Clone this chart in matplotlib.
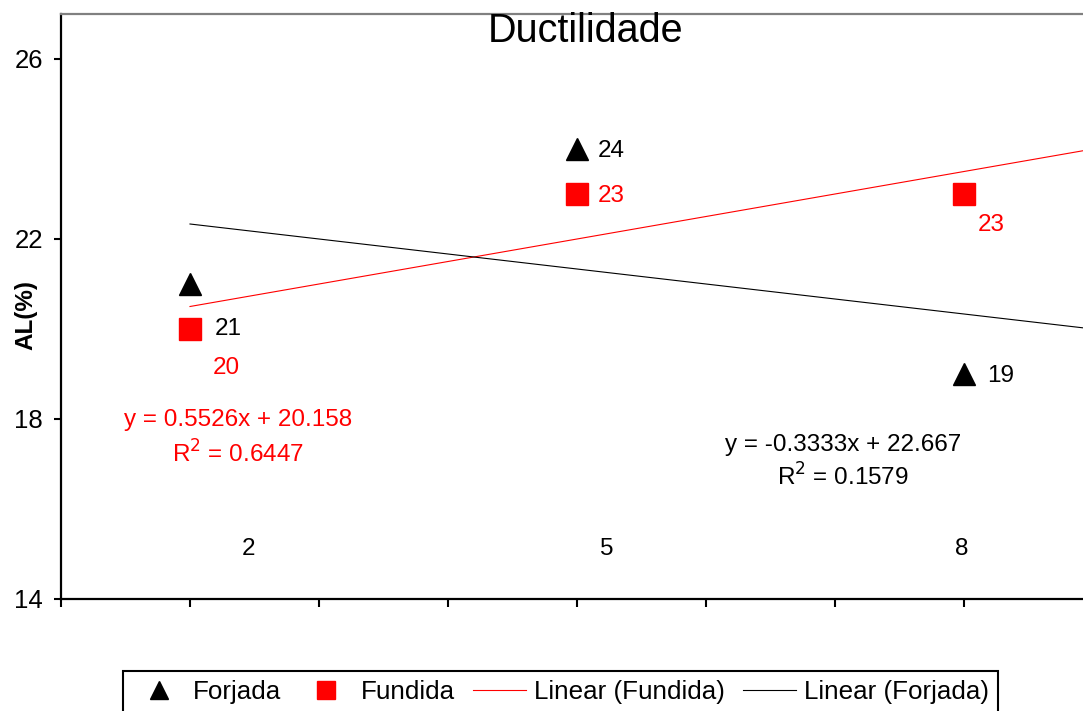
"""Ductilidade chart: AL(%) for forged vs cast samples with linear trends."""
import matplotlib
matplotlib.use("Agg")
import matplotlib.pyplot as plt
from matplotlib.lines import Line2D
import numpy as np

plt.rcParams["font.family"] = ["Liberation Sans", "DejaVu Sans"]

# data
x_vals = [2, 5, 8]
forjada = [21, 24, 19]
fundida = [20, 23, 23]
cat_labels = ["2", "5", "8"]
eq_fundida = ["y = 0.5526x + 20.158", "R$^2$ = 0.6447"]
eq_forjada = ["y = -0.3333x + 22.667", "R$^2$ = 0.1579"]

W, H = 1083, 711
fig = plt.figure(figsize=(W / 100, H / 100), dpi=100)
px = lambda v: v / W
py = lambda v: 1 - v / H

# axes: left spine at x=61px, bottom at 599px, top at 14px; 129 px per x unit
ax = fig.add_axes([px(61), py(599), 8 * 129 / W, (599 - 14) / H])
ax.set_xlim(1, 9)
ax.set_ylim(14, 27)

# trend lines (least squares over the three points), forward to the axis end
xs = np.array([2, 9])
p_fun = np.polyfit(x_vals, fundida, 1)
p_for = np.polyfit(x_vals, forjada, 1)
ax.plot(xs, np.polyval(p_fun, xs), color="red", lw=0.8, zorder=2)
ax.plot(xs, np.polyval(p_for, xs), color="black", lw=0.8, zorder=2)

ax.plot(x_vals, forjada, ls="none", marker="^", ms=16, color="black", zorder=3)
ax.plot(x_vals, fundida, ls="none", marker="s", ms=16, color="red", zorder=3)

# data labels, offsets in px (dx, dy up)
lab_fs = 17.5
off_forjada = [(25, -45), (21, -2), (23, -2)]
off_fundida = [(23, -39), (21, -2), (14, -31)]
for xv, yv, (dx, dy) in zip(x_vals, forjada, off_forjada):
    ax.annotate(str(yv), (xv, yv), xytext=(dx * 0.72, dy * 0.72), textcoords="offset points",
                ha="left", va="center", fontsize=lab_fs, color="black")
for xv, yv, (dx, dy) in zip(x_vals, fundida, off_fundida):
    ax.annotate(str(yv), (xv, yv), xytext=(dx * 0.72, dy * 0.72), textcoords="offset points",
                ha="left", va="center", fontsize=lab_fs, color="red")

# category labels inside plot
for xp, lab in zip([2.45, 5.23, 7.98], cat_labels):
    ax.text(xp, 15.12, lab, ha="center", va="center", fontsize=lab_fs)

# trend equations
ax.text(2.37, 17.98, eq_fundida[0], ha="center", va="center", fontsize=lab_fs, color="red")
ax.text(2.37, 17.22, eq_fundida[1], ha="center", va="center", fontsize=lab_fs, color="red")
ax.text(7.06, 17.42, eq_forjada[0], ha="center", va="center", fontsize=lab_fs, color="black")
ax.text(7.06, 16.71, eq_forjada[1], ha="center", va="center", fontsize=lab_fs, color="black")

# spines / ticks
ax.spines["right"].set_visible(False)
ax.spines["top"].set_color("#808080")
ax.spines["top"].set_linewidth(1.6)
for s in ("left", "bottom"):
    ax.spines[s].set_linewidth(1.6)
ax.set_yticks([14, 18, 22, 26])
ax.set_xticks(range(1, 10))
ax.tick_params(axis="y", direction="out", length=5, width=1.5, pad=8, labelsize=18.5)
ax.tick_params(axis="x", direction="out", length=6, width=1.5, labelbottom=False)

fig.text(px(26), py(315), "AL(%)", rotation=90, ha="center", va="center",
         fontsize=17.5, fontweight="bold")
fig.text(px(586), py(42), "Ductilidade", ha="center", va="baseline", fontsize=28.5)

handles = [
    Line2D([], [], ls="none", marker="^", ms=13, color="black", label="Forjada"),
    Line2D([], [], ls="none", marker="s", ms=13, color="red", label="Fundida"),
    Line2D([], [], color="red", lw=0.8, label="Linear (Fundida)"),
    Line2D([], [], color="black", lw=0.8, label="Linear (Forjada)"),
]
leg = fig.legend(handles=handles, loc="upper left", bbox_to_anchor=(px(123), py(671)),
                 ncol=4, fontsize=18.7, frameon=True, fancybox=False, framealpha=1,
                 edgecolor="black", handlelength=2.05, handletextpad=0.3,
                 columnspacing=0.7, borderpad=0.35, borderaxespad=0)
leg.get_frame().set_linewidth(1.5)

fig.savefig("out.png", dpi=100)
